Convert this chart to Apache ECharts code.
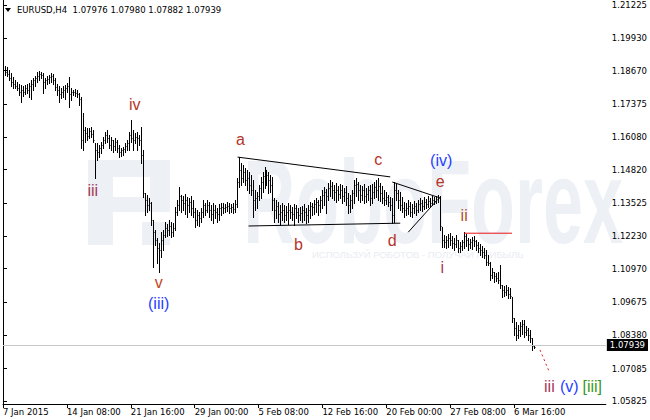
<!DOCTYPE html>
<html><head><meta charset="utf-8">
<script src="https://cdn.jsdelivr.net/npm/echarts@6/dist/echarts.min.js"></script>
<style>html,body{margin:0;padding:0;background:#fff}#c{width:650px;height:420px}</style>
</head><body><div id="c"></div>
<script>
// ---------- data ----------
const chartTitle = 'EURUSD,H4  1.07976 1.07980 1.07882 1.07939';
const timeLabels = ['7 Jan 2015','14 Jan 08:00','21 Jan 16:00','29 Jan 00:00','5 Feb 08:00','12 Feb 16:00','20 Feb 00:00','27 Feb 08:00','6 Mar 16:00'];
const barsPerLabel = 32;
const priceTicks = [1.05825,1.07085,1.08380,1.09675,1.10970,1.12230,1.13525,1.14820,1.16080,1.17375,1.18670,1.19930,1.21225];
const lastPrice = 1.07939;
const firstOpen = 1.1878;
const highs = [
1.1890,1.1886,1.1882,1.1870,1.1858,1.1843,1.1831,1.1823,1.1815,1.1812,
1.1808,1.1812,1.1815,1.1819,1.1831,1.1839,1.1847,1.1862,1.1866,1.1862,
1.1858,1.1839,1.1847,1.1851,1.1858,1.1854,1.1839,1.1815,1.1808,1.1800,
1.1808,1.1812,1.1819,1.1843,1.1800,1.1792,1.1796,1.1792,1.1780,1.1765,
1.1702,1.1648,1.1644,1.1644,1.1648,1.1636,1.1586,1.1586,1.1578,1.1589,
1.1609,1.1628,1.1636,1.1617,1.1609,1.1597,1.1605,1.1597,1.1578,1.1566,
1.1570,1.1586,1.1597,1.1628,1.1675,1.1636,1.1624,1.1628,1.1617,1.1648,
1.1559,1.1391,1.1384,1.1372,1.1356,1.1286,1.1247,1.1216,1.1197,1.1239,
1.1247,1.1278,1.1270,1.1286,1.1278,1.1274,1.1337,1.1364,1.1415,1.1384,
1.1380,1.1388,1.1376,1.1372,1.1380,1.1364,1.1333,1.1325,1.1317,1.1333,
1.1364,1.1352,1.1364,1.1356,1.1345,1.1352,1.1345,1.1333,1.1348,1.1352,
1.1352,1.1348,1.1356,1.1352,1.1348,1.1352,1.1364,1.1450,1.1531,1.1508,
1.1500,1.1489,1.1481,1.1473,1.1461,1.1442,1.1403,1.1395,1.1422,1.1454,
1.1473,1.1493,1.1481,1.1473,1.1461,1.1454,1.1372,1.1364,1.1356,1.1345,
1.1352,1.1345,1.1341,1.1352,1.1345,1.1337,1.1348,1.1345,1.1333,1.1337,
1.1341,1.1348,1.1333,1.1345,1.1356,1.1352,1.1364,1.1372,1.1364,1.1380,
1.1403,1.1415,1.1407,1.1430,1.1442,1.1434,1.1422,1.1430,1.1419,1.1426,
1.1422,1.1411,1.1419,1.1391,1.1384,1.1403,1.1442,1.1450,1.1434,1.1422,
1.1419,1.1426,1.1411,1.1419,1.1422,1.1426,1.1434,1.1442,1.1450,1.1430,
1.1419,1.1403,1.1395,1.1384,1.1376,1.1372,1.1434,1.1426,1.1403,1.1395,
1.1376,1.1356,1.1352,1.1364,1.1356,1.1348,1.1360,1.1352,1.1364,1.1372,
1.1364,1.1376,1.1368,1.1380,1.1372,1.1380,1.1376,1.1380,1.1384,1.1380,
1.1259,1.1228,1.1224,1.1231,1.1235,1.1224,1.1216,1.1228,1.1208,1.1200,
1.1208,1.1239,1.1231,1.1216,1.1212,1.1220,1.1224,1.1208,1.1200,1.1193,
1.1185,1.1177,1.1170,1.1150,1.1123,1.1100,1.1084,1.1080,1.1084,1.1111,
1.1033,1.1029,1.1033,1.1026,1.1022,1.0987,1.0905,1.0889,1.0878,1.0889,
1.0897,1.0897,1.0874,1.0866,1.0858,1.0827,1.0798];
const lows = [
1.1843,1.1851,1.1847,1.1831,1.1808,1.1800,1.1800,1.1792,1.1773,1.1745,
1.1769,1.1776,1.1780,1.1765,1.1757,1.1792,1.1808,1.1823,1.1831,1.1839,
1.1780,1.1800,1.1815,1.1819,1.1823,1.1815,1.1792,1.1773,1.1745,1.1761,
1.1765,1.1757,1.1784,1.1726,1.1753,1.1773,1.1769,1.1765,1.1734,1.1566,
1.1559,1.1589,1.1597,1.1605,1.1609,1.1589,1.1450,1.1520,1.1532,1.1547,
1.1566,1.1586,1.1589,1.1566,1.1559,1.1551,1.1559,1.1551,1.1532,1.1535,
1.1539,1.1551,1.1559,1.1559,1.1589,1.1559,1.1586,1.1559,1.1578,1.1508,
1.1376,1.1306,1.1317,1.1325,1.1267,1.1103,1.1189,1.1119,1.1084,1.1142,
1.1170,1.1220,1.1224,1.1228,1.1220,1.1224,1.1247,1.1306,1.1325,1.1317,
1.1325,1.1310,1.1298,1.1317,1.1306,1.1298,1.1259,1.1267,1.1263,1.1278,
1.1298,1.1306,1.1317,1.1298,1.1286,1.1274,1.1294,1.1278,1.1286,1.1306,
1.1313,1.1317,1.1321,1.1313,1.1317,1.1313,1.1317,1.1337,1.1415,1.1422,
1.1434,1.1422,1.1403,1.1391,1.1384,1.1298,1.1325,1.1333,1.1364,1.1372,
1.1395,1.1411,1.1422,1.1391,1.1395,1.1325,1.1278,1.1294,1.1278,1.1267,
1.1286,1.1278,1.1286,1.1270,1.1294,1.1286,1.1267,1.1294,1.1278,1.1286,
1.1278,1.1286,1.1274,1.1278,1.1294,1.1306,1.1310,1.1317,1.1306,1.1317,
1.1333,1.1345,1.1313,1.1364,1.1380,1.1372,1.1364,1.1356,1.1364,1.1372,
1.1352,1.1360,1.1345,1.1313,1.1317,1.1333,1.1352,1.1380,1.1364,1.1356,
1.1364,1.1352,1.1356,1.1364,1.1345,1.1352,1.1372,1.1376,1.1364,1.1360,
1.1352,1.1345,1.1348,1.1341,1.1325,1.1274,1.1278,1.1364,1.1333,1.1325,
1.1317,1.1298,1.1306,1.1310,1.1302,1.1298,1.1313,1.1306,1.1317,1.1325,
1.1321,1.1329,1.1333,1.1337,1.1341,1.1345,1.1348,1.1352,1.1356,1.1247,
1.1181,1.1181,1.1177,1.1181,1.1189,1.1177,1.1170,1.1181,1.1162,1.1162,
1.1170,1.1177,1.1185,1.1170,1.1177,1.1173,1.1185,1.1170,1.1162,1.1150,
1.1142,1.1138,1.1111,1.1111,1.1053,1.1061,1.1045,1.1049,1.1041,1.1022,
1.0987,1.0991,1.0995,1.0983,1.0983,1.0889,1.0839,1.0819,1.0827,1.0835,
1.0843,1.0831,1.0839,1.0819,1.0811,1.0781,1.0788];
const closes = [
1.1870,1.1862,1.1854,1.1839,1.1823,1.1815,1.1808,1.1800,1.1784,1.1792,
1.1784,1.1800,1.1792,1.1808,1.1815,1.1831,1.1839,1.1847,1.1854,1.1851,
1.1823,1.1831,1.1835,1.1843,1.1847,1.1831,1.1804,1.1792,1.1776,1.1784,
1.1792,1.1800,1.1808,1.1776,1.1784,1.1784,1.1780,1.1776,1.1757,1.1597,
1.1636,1.1624,1.1613,1.1632,1.1620,1.1597,1.1559,1.1551,1.1566,1.1578,
1.1597,1.1617,1.1605,1.1578,1.1597,1.1574,1.1589,1.1566,1.1551,1.1559,
1.1562,1.1574,1.1586,1.1617,1.1605,1.1597,1.1609,1.1605,1.1597,1.1539,
1.1391,1.1364,1.1345,1.1352,1.1286,1.1239,1.1208,1.1177,1.1170,1.1208,
1.1228,1.1255,1.1247,1.1263,1.1239,1.1255,1.1317,1.1345,1.1380,1.1364,
1.1352,1.1364,1.1345,1.1356,1.1333,1.1317,1.1286,1.1306,1.1294,1.1317,
1.1345,1.1325,1.1345,1.1325,1.1310,1.1325,1.1317,1.1310,1.1333,1.1337,
1.1333,1.1337,1.1341,1.1333,1.1337,1.1329,1.1348,1.1434,1.1481,1.1450,
1.1473,1.1442,1.1450,1.1422,1.1403,1.1364,1.1372,1.1380,1.1411,1.1434,
1.1458,1.1473,1.1461,1.1442,1.1422,1.1364,1.1325,1.1341,1.1310,1.1317,
1.1325,1.1306,1.1317,1.1325,1.1317,1.1310,1.1333,1.1317,1.1306,1.1313,
1.1325,1.1317,1.1306,1.1325,1.1341,1.1337,1.1348,1.1356,1.1345,1.1364,
1.1384,1.1395,1.1380,1.1411,1.1419,1.1403,1.1395,1.1403,1.1388,1.1403,
1.1380,1.1395,1.1372,1.1345,1.1364,1.1391,1.1422,1.1426,1.1403,1.1384,
1.1403,1.1380,1.1388,1.1403,1.1372,1.1395,1.1415,1.1403,1.1419,1.1391,
1.1372,1.1364,1.1376,1.1356,1.1345,1.1306,1.1403,1.1391,1.1364,1.1345,
1.1333,1.1325,1.1333,1.1341,1.1317,1.1333,1.1341,1.1325,1.1348,1.1352,
1.1341,1.1356,1.1348,1.1360,1.1352,1.1364,1.1360,1.1368,1.1372,1.1263,
1.1208,1.1200,1.1208,1.1216,1.1208,1.1197,1.1193,1.1208,1.1177,1.1185,
1.1200,1.1224,1.1208,1.1193,1.1200,1.1208,1.1204,1.1189,1.1177,1.1170,
1.1162,1.1150,1.1123,1.1119,1.1072,1.1084,1.1068,1.1061,1.1053,1.1033,
1.1014,1.1006,1.1014,1.0998,1.0991,1.0905,1.0866,1.0839,1.0858,1.0874,
1.0882,1.0850,1.0858,1.0839,1.0827,1.0798,1.0794];

// wave annotations: [bar index, price]
const waveLabels = [
  {text:'iii',   at:[45,   1.1403], color:'#a8385a'},
  {text:'iv',    at:[66,   1.1737], color:'#b5352a'},
  {text:'v',     at:[78,   1.1045], color:'#c0451f'},
  {text:'(iii)', at:[78,   1.0960], color:'#1f3fff'},
  {text:'a',     at:[119,  1.1601], color:'#b5352a'},
  {text:'b',     at:[148,  1.1193], color:'#b5352a'},
  {text:'c',     at:[188,  1.1520], color:'#b5352a'},
  {text:'d',     at:[195,  1.1205], color:'#b5352a'},
  {text:'e',     at:[219,  1.1438], color:'#b5352a'},
  {text:'(iv)',  at:[219.5,1.1516], color:'#1f3fff'},
  {text:'i',     at:[220,  1.1103], color:'#a8385a'},
  {text:'ii',    at:[231,  1.1302], color:'#b0502a'},
  {text:'iii',   at:[273.7,1.0640], color:'#a8385a'},
  {text:'(v)',   at:[283.7,1.0640], color:'#1f3fff'},
  {text:'[iii]', at:[295.2,1.0640], color:'#379a22'}
];
const trendLines = [
  {from:[117.5,1.1531], to:[194,  1.1454], color:'#000'},
  {from:[195,  1.1434], to:[219,  1.1372], color:'#000'},
  {from:[123,  1.1263], to:[199,  1.1274], color:'#000'},
  {from:[203,  1.1239], to:[217.5,1.1364], color:'#000'},
  {from:[231,  1.1235], to:[255,  1.1235], color:'#e8141a'},
  {from:[269,  1.0781], to:[273.5,1.0699], color:'#e8141a', dash:[2,3]}
];

// ---------- chart ----------
const AX_FONT = 'DejaVu Sans';
const bars = highs.map((h, i) => [i, i ? closes[i-1] : firstOpen, h, lows[i], closes[i]]);
const xTicks = timeLabels.map((_, k) => k * barsPerLabel);
const wm = '#edf0f5';

const chart = echarts.init(document.getElementById('c'), null, {renderer:'svg'});
chart.setOption({
  animation:false,
  backgroundColor:'#fff',
  grid:{left:2, right:44, top:0, bottom:16, containLabel:false},
  graphic:[
    {type:'rect', z:-10, shape:{x:88,y:160,width:25,height:85}, style:{fill:wm}},
    {type:'rect', z:-10, shape:{x:88,y:160,width:82,height:17}, style:{fill:wm}},
    {type:'rect', z:-10, shape:{x:150,y:160,width:20,height:52}, style:{fill:wm}},
    {type:'rect', z:-10, shape:{x:113,y:197,width:57,height:15}, style:{fill:wm}},
    {type:'rect', z:-10, shape:{x:142,y:222,width:28,height:23}, style:{fill:wm}},
    {type:'text', z:-10, x:175, y:203, scaleX:0.61, originX:175, originY:203,
      style:{text:'RoboForex', font:'bold 118px "Liberation Sans"', fill:wm, align:'left', verticalAlign:'middle', textAlign:'left', textVerticalAlign:'middle'}},
    {type:'text', z:-10, x:312, y:254,
      style:{text:'ИСПОЛЬЗУЙ РОБОТОВ - ПОЛУЧАЙ ПРИБЫЛЬ', font:'9.5px "Liberation Sans"', fill:'#e9ecf2', align:'left', verticalAlign:'middle', textAlign:'left', textVerticalAlign:'middle'}},
    {type:'polygon', shape:{points:[[5,8],[11,8],[8,12]]}, style:{fill:'#000'}},
    {type:'text', x:17, y:10,
      style:{text:chartTitle, font:'8.5px "' + AX_FONT + '"', fill:'#000', align:'left', verticalAlign:'middle', textAlign:'left', textVerticalAlign:'middle'}}
  ],
  xAxis:{
    type:'value', min:0, max:302,
    axisLine:{show:true, onZero:false, lineStyle:{color:'#000', width:1}},
    axisTick:{show:true, customValues:xTicks, length:4, lineStyle:{color:'#000'}},
    axisLabel:{customValues:xTicks, formatter:v => timeLabels[Math.round(v / barsPerLabel)] || '',
      align:'left', margin:3, fontFamily:AX_FONT, fontSize:8.5, color:'#000'},
    splitLine:{show:false}
  },
  yAxis:[
    {type:'value', position:'right', min:1.05708, max:1.21419,
      axisLine:{show:true, lineStyle:{color:'#000', width:1}},
      axisTick:{show:true, customValues:priceTicks, length:4, lineStyle:{color:'#000'}},
      axisLabel:{customValues:priceTicks, formatter:v => v.toFixed(5), margin:6,
        fontFamily:AX_FONT, fontSize:8.5, color:'#000'},
      splitLine:{show:false}},
    {type:'value', position:'left', min:1.05708, max:1.21419,
      axisLine:{show:true, lineStyle:{color:'#000', width:1}},
      axisTick:{show:false}, axisLabel:{show:false}, splitLine:{show:false}}
  ],
  series:[
    {
      type:'line', data:[], yAxisIndex:0, silent:true,
      markLine:{symbol:'none', silent:true, data:[{yAxis:lastPrice}],
        lineStyle:{color:'#c8c8c8', type:'solid', width:1},
        label:{position:'end', formatter:lastPrice.toFixed(5), backgroundColor:'#000', color:'#fff',
          padding:[2,3,1,3], fontFamily:AX_FONT, fontSize:8.5, distance:1}}
    },
    {
      type:'custom', yAxisIndex:0, silent:true, clip:true,
      data:bars, encode:{x:0, y:[2,3]},
      renderItem:(params, api) => {
        const i = api.value(0), h = api.value(2), l = api.value(3), c = api.value(4);
        const ph = api.coord([i, h]), pl = api.coord([i, l]), pc = api.coord([i, c]);
        const x = Math.round(ph[0]) + 0.5;
        const yc = Math.round(pc[1]) + 0.5;
        const st = {stroke:'#000', lineWidth:1};
        return {type:'group', children:[
          {type:'line', shape:{x1:x, y1:Math.round(ph[1]), x2:x, y2:Math.round(pl[1]) + 1}, style:st},
          {type:'line', shape:{x1:x, y1:yc, x2:x + 1, y2:yc}, style:st}
        ]};
      }
    },
    {
      type:'custom', yAxisIndex:0, silent:true,
      data:trendLines.map(t => [t.from[0], t.from[1], t.to[0], t.to[1]]), encode:{x:[0,2], y:[1,3]},
      renderItem:(params, api) => {
        const t = trendLines[params.dataIndex];
        const p1 = api.coord(t.from), p2 = api.coord(t.to);
        return {type:'line', shape:{x1:p1[0], y1:p1[1], x2:p2[0], y2:p2[1]},
          style:{stroke:t.color, lineWidth:1, lineDash:t.dash || null}};
      }
    },
    {
      type:'custom', yAxisIndex:0, silent:true, clip:false,
      data:waveLabels.map(w => w.at), encode:{x:0, y:1},
      renderItem:(params, api) => {
        const w = waveLabels[params.dataIndex];
        const p = api.coord(w.at);
        return {type:'text', x:p[0], y:p[1],
          style:{text:w.text, fill:w.color, font:'16px "Liberation Sans"', align:'center', verticalAlign:'middle', textAlign:'center', textVerticalAlign:'middle'}};
      }
    }
  ]
});
</script></body></html>
